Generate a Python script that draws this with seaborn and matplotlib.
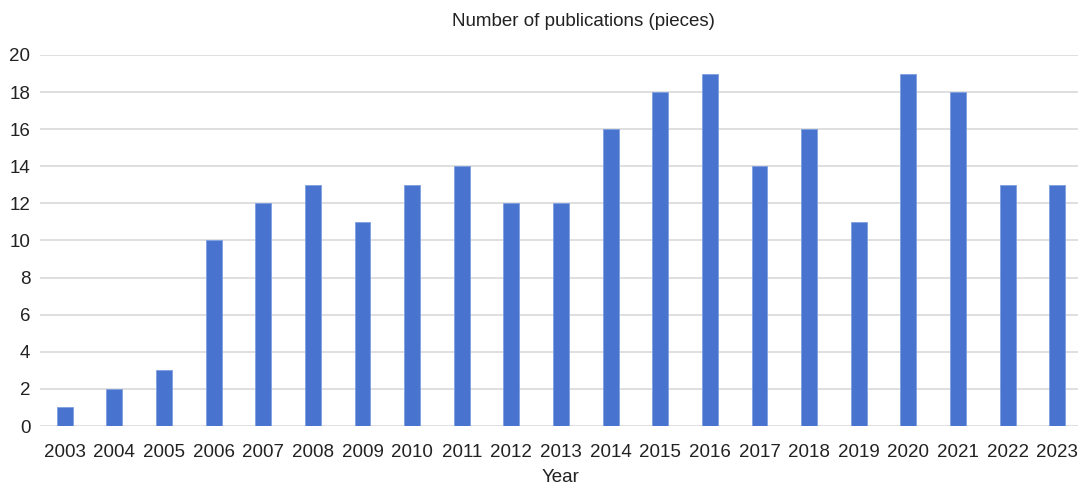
import matplotlib
matplotlib.use("Agg")
import matplotlib.pyplot as plt
import seaborn as sns
import pandas as pd

years = [str(y) for y in range(2003, 2024)]
counts = [1, 2, 3, 10, 12, 13, 11, 13, 14, 12, 12, 16, 18, 19, 14, 16, 11, 19, 18, 13, 13]
yticks = [0, 2, 4, 6, 8, 10, 12, 14, 16, 18, 20]

sns.set_style("white")
plt.rcParams["font.family"] = ["Liberation Sans", "DejaVu Sans"]

df = pd.DataFrame({"Year": years, "Count": counts})

fig = plt.figure(figsize=(10.78, 4.86), dpi=100)
ax = fig.add_axes([40 / 1078, 1 - 426 / 486, 1042 / 1078, (426 - 55) / 486])

sns.barplot(data=df, x="Year", y="Count", color="#4874CF", width=0.32,
            saturation=1, edgecolor="#7e9fe0", linewidth=0.6, ax=ax, zorder=3)

ax.set_ylim(0, 20)
ax.set_xlim(-0.5, 20.5)
ax.set_yticks(yticks)
ax.yaxis.grid(True, color="#d9d9d9", linewidth=1.2, zorder=0)
ax.set_axisbelow(True)
for s in ax.spines.values():
    s.set_visible(False)
ax.tick_params(axis="both", length=0, labelsize=13.5, colors="#222222")
ax.tick_params(axis="x", pad=13)
ax.tick_params(axis="y", pad=7)
ax.set_ylabel("")
ax.set_xlabel("Year", fontsize=13.5, color="#222222", labelpad=6)
ax.set_title("Number of publications (pieces)", fontsize=13.5, color="#222222",
             pad=21, x=0.522)

fig.savefig("out.png", dpi=100)
